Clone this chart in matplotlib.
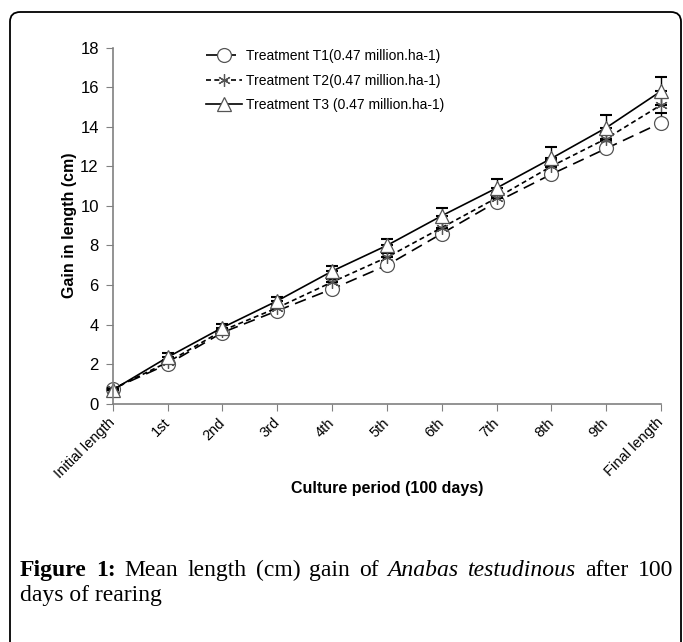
import matplotlib
matplotlib.use("Agg")
import matplotlib.pyplot as plt
from matplotlib.patches import FancyBboxPatch

plt.rcParams.update({
    "font.family": ["Liberation Sans", "DejaVu Sans"],
})

periods = ["Initial length", "1st", "2nd", "3rd", "4th", "5th",
           "6th", "7th", "8th", "9th", "Final length"]

t1 = [0.75, 2.0, 3.6, 4.7, 5.8, 7.0, 8.6, 10.2, 11.6, 12.9, 14.2]
t2 = [0.75, 2.1, 3.7, 4.85, 6.15, 7.4, 8.9, 10.4, 12.0, 13.4, 15.1]
t3 = [0.7, 2.35, 3.85, 5.2, 6.7, 8.0, 9.5, 10.9, 12.4, 13.95, 15.8]

t1_err = [0.05, 0.1, 0.1, 0.15, 0.2, 0.2, 0.25, 0.3, 0.35, 0.4, 0.5]
t2_err = [0.05, 0.1, 0.1, 0.15, 0.15, 0.2, 0.25, 0.25, 0.3, 0.3, 0.35]
t3_err = [0.05, 0.2, 0.2, 0.2, 0.25, 0.35, 0.4, 0.45, 0.55, 0.65, 0.7]

labels = ["Treatment T1(0.47 million.ha-1)",
          "Treatment T2(0.47 million.ha-1)",
          "Treatment T3 (0.47 million.ha-1)"]

fig = plt.figure(figsize=(6.83, 6.42), dpi=100)

# rounded panel frame
frame = FancyBboxPatch((10 / 683, -0.05), (681 / 683) - (10 / 683), 1.0 - 12 / 642 + 0.05,
                       boxstyle="round,pad=0,rounding_size=0.015",
                       transform=fig.transFigure, fill=False,
                       edgecolor="black", linewidth=1.3, clip_on=False)
fig.patches.append(frame)

ax = fig.add_axes([0.165, 0.371, 0.803, 0.555])
x = list(range(len(periods)))

styles = [
    (t1, t1_err, (0, (7, 4)), "o", 10),
    (t2, t2_err, (0, (3, 2)), (6, 2, 0), 9),
    (t3, t3_err, "-", "^", 10),
]
for (ys, err, ls, mk, ms), lab in zip(styles, labels):
    eb = ax.errorbar(x, ys, yerr=[[0] * len(err), err], fmt="none",
                     ecolor="black", elinewidth=1.0, capsize=4, capthick=1.5)
    for art in eb.lines[1] + eb.lines[2]:
        art.set_clip_on(False)
    ax.plot(x, ys, linestyle=ls, color="black", linewidth=1.2,
            marker=mk, markersize=ms, markerfacecolor="white",
            markeredgecolor="#555555", markeredgewidth=0.9, label=lab,
            clip_on=False)

ax.set_xlim(0, 10)
ax.set_ylim(0, 18)
ax.set_yticks(range(0, 19, 2))
ax.set_xticks(x)
ax.set_xticklabels(periods, fontsize=10.5)
ax.tick_params(axis="y", labelsize=12, direction="out", length=5,
               color="#808080", pad=5)
ax.tick_params(axis="x", direction="out", length=5, color="#808080", pad=7,
               labelrotation=45)
for lbl in ax.get_xticklabels():
    lbl.set_horizontalalignment("right")
    lbl.set_verticalalignment("center")
    lbl.set_rotation_mode("anchor")
for s in ["top", "right"]:
    ax.spines[s].set_visible(False)
for s in ["left", "bottom"]:
    ax.spines[s].set_color("#808080")
    ax.spines[s].set_linewidth(1.2)
ax.patch.set_visible(False)

ax.set_ylabel("Gain in length (cm)", fontsize=11.5, fontweight="bold", labelpad=2)
ax.set_xlabel("Culture period (100 days)", fontsize=11.5, fontweight="bold", labelpad=0)

ax.legend(loc="upper left", bbox_to_anchor=(0.16, 1.011), frameon=False,
          fontsize=10, handlelength=2.6, handletextpad=0.3, labelspacing=0.75,
          borderaxespad=0)

# caption, first line justified between the frame margins
fig.canvas.draw()
renderer = fig.canvas.get_renderer()
cap_size = 17
words = [("Figure", "bold", "normal"), ("1:", "bold", "normal"),
         ("Mean", "normal", "normal"), ("length", "normal", "normal"),
         ("(cm)", "normal", "normal"), ("gain", "normal", "normal"),
         ("of", "normal", "normal"), ("Anabas", "normal", "italic"),
         ("testudinous", "normal", "italic"), ("after", "normal", "normal"),
         ("100", "normal", "normal")]
x_left, x_right = 20, 673
y1 = 642 - 576
arts = []
widths = []
for w, wt, st in words:
    t = fig.text(0, y1 / 642, w, fontsize=cap_size, family="Liberation Serif",
                 fontweight=wt, fontstyle=st, va="baseline", ha="left")
    arts.append(t)
    widths.append(t.get_window_extent(renderer).width)
gap = (x_right - x_left - sum(widths)) / (len(words) - 1)
pos = x_left
for t, wd in zip(arts, widths):
    t.set_x(pos / 683)
    pos += wd + gap
fig.text(x_left / 683, (642 - 601) / 642, "days of rearing",
         fontsize=cap_size, family="Liberation Serif", va="baseline", ha="left")

fig.savefig("out.png", dpi=100)
